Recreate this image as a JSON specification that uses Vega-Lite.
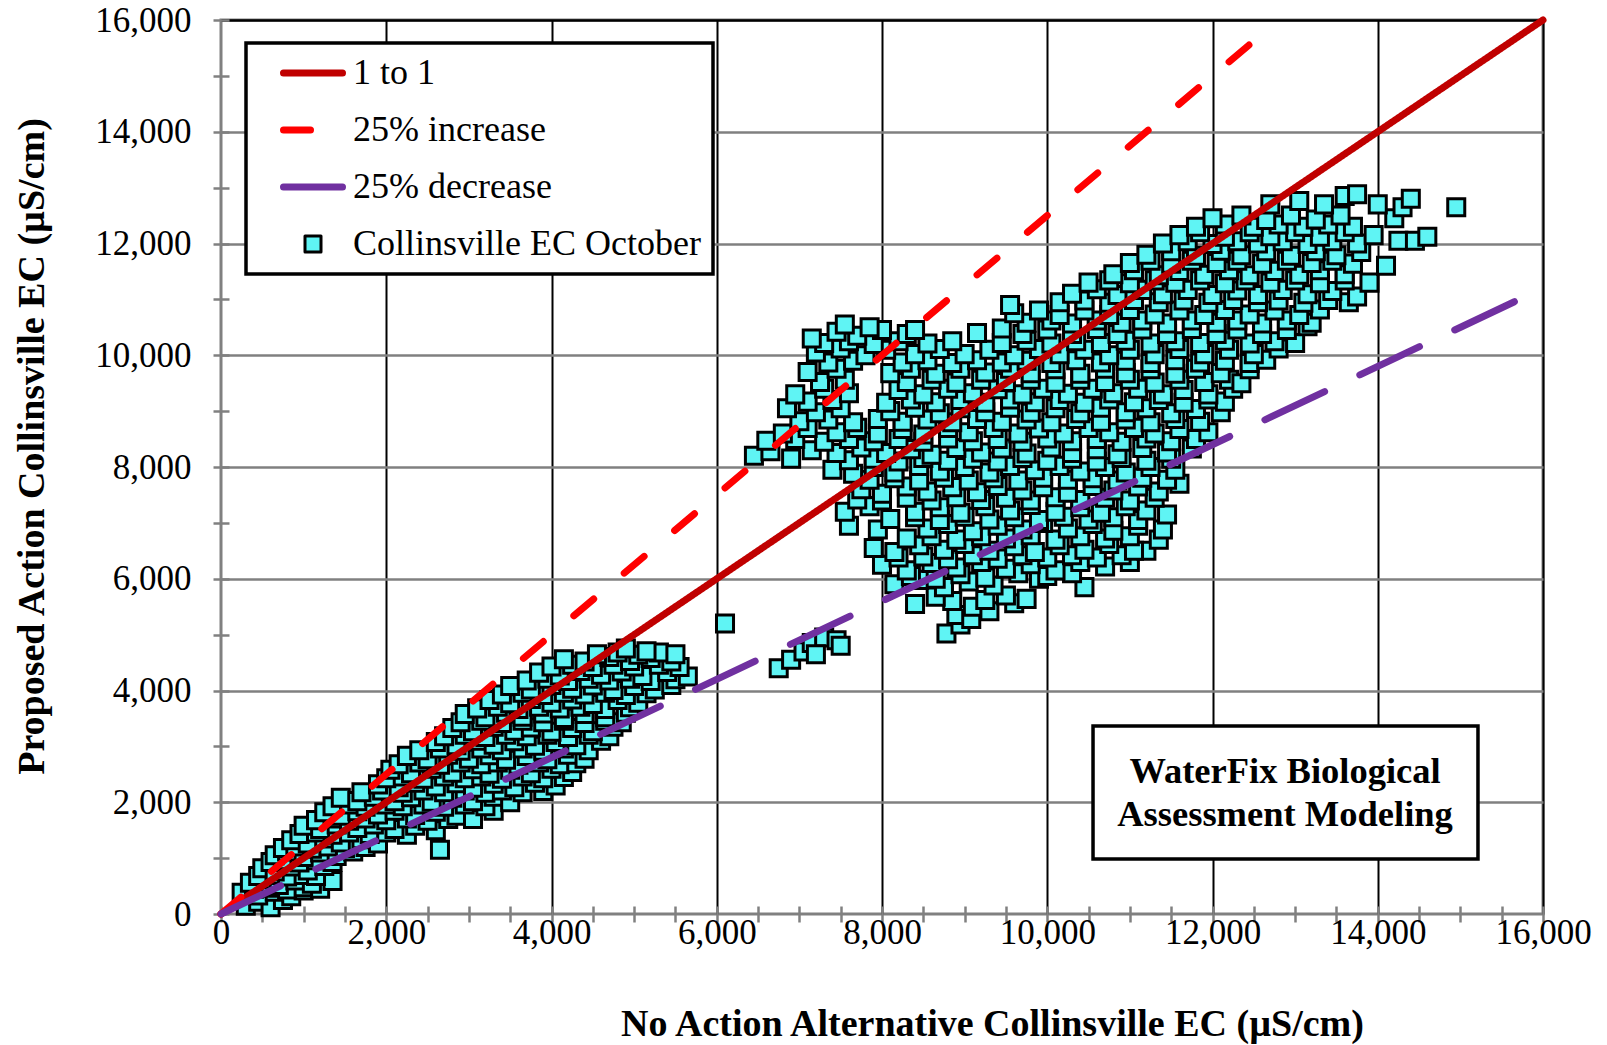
{
"$schema": "https://vega.github.io/schema/vega-lite/v6.json",
"width": 1322, "height": 894,
"autosize": {"type": "none"},
"padding": {"left": 221, "top": 20, "right": 64, "bottom": 131},
"background": "white",
"config": {
  "view": {"stroke": "#808080", "strokeWidth": 3},
  "font": "Liberation Serif",
  "legend": {"strokeColor": "black", "strokeWidth": 3.5, "fillColor": "white", "padding": 12}
},
"datasets": {
"pts": [
{"x":8780,"y":5020},{"x":8950,"y":5180},
{"x":8900,"y":5350},{"x":9080,"y":5280},{"x":9600,"y":5560},{"x":9100,"y":5500},{"x":9300,"y":5420},{"x":8850,"y":5600},
{"x":8400,"y":5550},{"x":8650,"y":5680},{"x":9250,"y":5620},{"x":9500,"y":5700},{"x":9750,"y":5640},
{"x":8150,"y":5900},{"x":8450,"y":5980},{"x":8750,"y":5850},{"x":9050,"y":5950},{"x":9350,"y":5880},{"x":9900,"y":6000},{"x":10450,"y":5850},
{"x":8350,"y":6050},{"x":8650,"y":6000},{"x":8950,"y":6080},{"x":9250,"y":6020},{"x":9650,"y":6100},{"x":10000,"y":6050},{"x":10300,"y":6100},
{"x":8000,"y":6250},{"x":8300,"y":6150},{"x":8600,"y":6280},{"x":8900,"y":6200},{"x":9200,"y":6300},{"x":9500,"y":6180},{"x":9800,"y":6260},{"x":10100,"y":6150},{"x":10400,"y":6300},{"x":10700,"y":6220},{"x":11000,"y":6300},
{"x":8200,"y":6380},{"x":8500,"y":6400},{"x":8800,"y":6350},{"x":9100,"y":6420},{"x":9400,"y":6360},{"x":9700,"y":6420},{"x":10000,"y":6380},{"x":10300,"y":6420},{"x":10600,"y":6380},{"x":10900,"y":6420},{"x":11200,"y":6500},
{"x":7900,"y":6550},{"x":8150,"y":6480},{"x":8450,"y":6600},{"x":8750,"y":6520},{"x":9000,"y":6620},{"x":9300,"y":6500},{"x":9600,"y":6580},{"x":9850,"y":6480},{"x":10150,"y":6600},{"x":10450,"y":6520},{"x":10750,"y":6620},{"x":11050,"y":6500},{"x":11350,"y":6700},
{"x":8300,"y":6720},{"x":8600,"y":6760},{"x":8900,"y":6700},{"x":9200,"y":6760},{"x":9500,"y":6720},{"x":9800,"y":6780},{"x":10100,"y":6700},{"x":10400,"y":6760},{"x":10700,"y":6720},{"x":11000,"y":6760},
{"x":7600,"y":6950},{"x":7950,"y":6880},{"x":8550,"y":6900},{"x":8800,"y":6980},{"x":9100,"y":6850},{"x":9400,"y":6950},{"x":9700,"y":6880},{"x":9950,"y":7000},{"x":10250,"y":6900},{"x":10550,"y":6980},{"x":10800,"y":6860},{"x":11100,"y":6950},{"x":11400,"y":6880},
{"x":8100,"y":7070},{"x":8400,"y":7100},{"x":8700,"y":7050},{"x":9000,"y":7110},{"x":9300,"y":7060},{"x":9600,"y":7100},{"x":9900,"y":7050},{"x":10200,"y":7110},{"x":10500,"y":7060},{"x":10800,"y":7100},{"x":11100,"y":7050},
{"x":7550,"y":7200},{"x":7850,"y":7300},{"x":8400,"y":7200},{"x":8700,"y":7280},{"x":8950,"y":7180},{"x":9250,"y":7300},{"x":9550,"y":7220},{"x":9800,"y":7320},{"x":10100,"y":7200},{"x":10400,"y":7280},{"x":10650,"y":7180},{"x":10950,"y":7300},{"x":11200,"y":7220},{"x":11450,"y":7150},
{"x":7700,"y":7420},{"x":8000,"y":7400},{"x":8300,"y":7450},{"x":8600,"y":7400},{"x":8900,"y":7460},{"x":9200,"y":7410},{"x":9500,"y":7450},{"x":9800,"y":7400},{"x":10100,"y":7460},{"x":10400,"y":7410},{"x":10700,"y":7450},{"x":11000,"y":7400},{"x":11300,"y":7450},
{"x":7750,"y":7600},{"x":8000,"y":7520},{"x":8300,"y":7650},{"x":8550,"y":7560},{"x":8850,"y":7640},{"x":9150,"y":7550},{"x":9400,"y":7660},{"x":9700,"y":7580},{"x":9950,"y":7640},{"x":10250,"y":7540},{"x":10550,"y":7660},{"x":10800,"y":7580},{"x":11100,"y":7650},{"x":11350,"y":7560},{"x":11600,"y":7700},
{"x":7850,"y":7770},{"x":8150,"y":7800},{"x":8450,"y":7760},{"x":8750,"y":7810},{"x":9050,"y":7760},{"x":9350,"y":7800},{"x":9650,"y":7760},{"x":9950,"y":7810},{"x":10250,"y":7770},{"x":10550,"y":7800},{"x":10850,"y":7760},{"x":11150,"y":7810},{"x":11450,"y":7770},
{"x":7400,"y":7950},{"x":7650,"y":7880},{"x":7900,"y":8000},{"x":8150,"y":7900},{"x":8450,"y":8020},{"x":8700,"y":7920},{"x":9000,"y":8000},{"x":9300,"y":7900},{"x":9550,"y":8020},{"x":9850,"y":7940},{"x":10150,"y":8020},{"x":10400,"y":7920},{"x":10700,"y":8000},{"x":10950,"y":7900},{"x":11250,"y":8000},{"x":11550,"y":7950},
{"x":7600,"y":8120},{"x":7900,"y":8150},{"x":8200,"y":8100},{"x":8500,"y":8160},{"x":8800,"y":8110},{"x":9100,"y":8150},{"x":9400,"y":8100},{"x":9700,"y":8160},{"x":10000,"y":8110},{"x":10300,"y":8150},{"x":10600,"y":8100},{"x":10900,"y":8160},{"x":11200,"y":8110},{"x":11500,"y":8150},
{"x":6450,"y":8200},{"x":6650,"y":8280},{"x":6900,"y":8150},{"x":7150,"y":8300},{"x":7450,"y":8250},{"x":7750,"y":8350},{"x":8050,"y":8250},{"x":8350,"y":8320},{"x":8600,"y":8220},{"x":8900,"y":8340},{"x":9200,"y":8260},{"x":9450,"y":8330},{"x":9750,"y":8240},{"x":10050,"y":8350},{"x":10300,"y":8250},{"x":10600,"y":8320},{"x":10850,"y":8230},{"x":11150,"y":8340},{"x":11450,"y":8260},{"x":11750,"y":8330},
{"x":6600,"y":8470},{"x":6950,"y":8500},{"x":7300,"y":8450},{"x":7600,"y":8500},{"x":7900,"y":8460},{"x":8200,"y":8500},{"x":8500,"y":8450},{"x":8800,"y":8510},{"x":9100,"y":8460},{"x":9400,"y":8500},{"x":9700,"y":8450},{"x":10000,"y":8510},{"x":10300,"y":8460},{"x":10600,"y":8500},{"x":10900,"y":8450},{"x":11200,"y":8510},{"x":11500,"y":8460},{"x":11800,"y":8500},
{"x":6800,"y":8600},{"x":7100,"y":8700},{"x":7450,"y":8620},{"x":7700,"y":8700},{"x":7950,"y":8600},{"x":8250,"y":8680},{"x":8500,"y":8580},{"x":8800,"y":8700},{"x":9050,"y":8620},{"x":9350,"y":8700},{"x":9650,"y":8600},{"x":9900,"y":8690},{"x":10200,"y":8600},{"x":10500,"y":8700},{"x":10750,"y":8620},{"x":11050,"y":8700},{"x":11300,"y":8600},{"x":11600,"y":8680},{"x":11950,"y":8620},
{"x":7000,"y":8820},{"x":7350,"y":8850},{"x":7650,"y":8800},{"x":7950,"y":8860},{"x":8250,"y":8810},{"x":8550,"y":8850},{"x":8850,"y":8800},{"x":9150,"y":8860},{"x":9450,"y":8810},{"x":9750,"y":8850},{"x":10050,"y":8800},{"x":10350,"y":8860},{"x":10650,"y":8810},{"x":10950,"y":8850},{"x":11250,"y":8800},{"x":11550,"y":8860},{"x":11850,"y":8810},
{"x":6850,"y":9050},{"x":7200,"y":8980},{"x":7500,"y":9050},{"x":8100,"y":9000},{"x":8400,"y":9060},{"x":8700,"y":8960},{"x":8950,"y":9050},{"x":9250,"y":8980},{"x":9550,"y":9060},{"x":9800,"y":8970},{"x":10100,"y":9050},{"x":10400,"y":8960},{"x":10650,"y":9060},{"x":10950,"y":8980},{"x":11200,"y":9050},{"x":11500,"y":8960},{"x":11800,"y":9040},{"x":12100,"y":8980},
{"x":7100,"y":9170},{"x":7400,"y":9200},{"x":8050,"y":9150},{"x":8350,"y":9210},{"x":8650,"y":9160},{"x":8950,"y":9200},{"x":9250,"y":9150},{"x":9550,"y":9210},{"x":9850,"y":9160},{"x":10150,"y":9200},{"x":10450,"y":9150},{"x":10750,"y":9210},{"x":11050,"y":9160},{"x":11350,"y":9200},{"x":11650,"y":9150},{"x":11950,"y":9210},{"x":12150,"y":9170},
{"x":6950,"y":9300},{"x":7300,"y":9400},{"x":7600,"y":9320},{"x":8200,"y":9380},{"x":8500,"y":9300},{"x":8800,"y":9400},{"x":9100,"y":9320},{"x":9400,"y":9390},{"x":9700,"y":9300},{"x":9950,"y":9400},{"x":10250,"y":9310},{"x":10550,"y":9400},{"x":10800,"y":9320},{"x":11100,"y":9400},{"x":11400,"y":9300},{"x":11650,"y":9380},{"x":11950,"y":9300},{"x":12250,"y":9400},
{"x":7250,"y":9520},{"x":7550,"y":9560},{"x":8300,"y":9520},{"x":8600,"y":9560},{"x":8900,"y":9510},{"x":9200,"y":9560},{"x":9500,"y":9520},{"x":9800,"y":9560},{"x":10100,"y":9510},{"x":10400,"y":9560},{"x":10700,"y":9520},{"x":11000,"y":9560},{"x":11300,"y":9510},{"x":11600,"y":9560},{"x":11900,"y":9520},{"x":12200,"y":9560},{"x":12350,"y":9500},
{"x":7100,"y":9700},{"x":7450,"y":9760},{"x":8100,"y":9680},{"x":8350,"y":9760},{"x":8650,"y":9670},{"x":8950,"y":9760},{"x":9250,"y":9690},{"x":9550,"y":9760},{"x":9800,"y":9680},{"x":10100,"y":9750},{"x":10400,"y":9670},{"x":10700,"y":9760},{"x":10950,"y":9680},{"x":11250,"y":9750},{"x":11550,"y":9670},{"x":11800,"y":9760},{"x":12100,"y":9680},{"x":12450,"y":9750},
{"x":7350,"y":9870},{"x":7650,"y":9900},{"x":8250,"y":9870},{"x":8550,"y":9910},{"x":8850,"y":9860},{"x":9150,"y":9910},{"x":9450,"y":9870},{"x":9750,"y":9900},{"x":10050,"y":9860},{"x":10350,"y":9910},{"x":10650,"y":9870},{"x":10950,"y":9900},{"x":11250,"y":9860},{"x":11550,"y":9910},{"x":11850,"y":9870},{"x":12150,"y":9900},{"x":12450,"y":9860},{"x":12650,"y":9920},
{"x":7200,"y":10050},{"x":7500,"y":10120},{"x":7800,"y":10000},{"x":8050,"y":10100},{"x":8400,"y":10020},{"x":8700,"y":10110},{"x":9000,"y":10020},{"x":9300,"y":10100},{"x":9600,"y":10000},{"x":9900,"y":10110},{"x":10150,"y":10020},{"x":10450,"y":10100},{"x":10750,"y":10000},{"x":11000,"y":10100},{"x":11300,"y":10020},{"x":11600,"y":10110},{"x":11900,"y":10020},{"x":12200,"y":10100},{"x":12500,"y":10020},{"x":12800,"y":10120},
{"x":7300,"y":10220},{"x":7600,"y":10250},{"x":7900,"y":10200},{"x":8200,"y":10250},{"x":8550,"y":10210},{"x":8850,"y":10250},{"x":9450,"y":10220},{"x":9750,"y":10260},{"x":10050,"y":10210},{"x":10350,"y":10250},{"x":10650,"y":10220},{"x":10950,"y":10260},{"x":11250,"y":10210},{"x":11550,"y":10250},{"x":11850,"y":10220},{"x":12150,"y":10260},{"x":12450,"y":10210},{"x":12750,"y":10250},{"x":13000,"y":10220},
{"x":7150,"y":10300},{"x":7450,"y":10420},{"x":7700,"y":10350},{"x":8000,"y":10450},{"x":8300,"y":10380},{"x":9150,"y":10400},{"x":9450,"y":10480},{"x":9700,"y":10380},{"x":10000,"y":10460},{"x":10300,"y":10380},{"x":10600,"y":10470},{"x":10850,"y":10380},{"x":11150,"y":10460},{"x":11450,"y":10380},{"x":11750,"y":10470},{"x":12050,"y":10380},{"x":12300,"y":10460},{"x":12600,"y":10380},{"x":12900,"y":10450},{"x":13150,"y":10520},
{"x":9750,"y":10580},{"x":10050,"y":10620},{"x":10300,"y":10570},{"x":10600,"y":10620},{"x":10900,"y":10580},{"x":11150,"y":10620},{"x":11450,"y":10570},{"x":11750,"y":10620},{"x":12050,"y":10580},{"x":12300,"y":10620},{"x":12600,"y":10570},{"x":12900,"y":10620},{"x":13200,"y":10580},
{"x":7550,"y":10550},{"x":7850,"y":10500},{"x":8400,"y":10450},{"x":9600,"y":10750},{"x":9900,"y":10800},{"x":10150,"y":10720},{"x":10450,"y":10800},{"x":10750,"y":10720},{"x":11000,"y":10810},{"x":11300,"y":10730},{"x":11600,"y":10800},{"x":11900,"y":10720},{"x":12150,"y":10810},{"x":12450,"y":10730},{"x":12750,"y":10800},{"x":13050,"y":10720},{"x":13300,"y":10820},
{"x":10150,"y":10950},{"x":10450,"y":10980},{"x":10750,"y":10940},{"x":11050,"y":10990},{"x":11350,"y":10950},{"x":11650,"y":10980},{"x":11950,"y":10940},{"x":12250,"y":10990},{"x":12550,"y":10950},{"x":12800,"y":10980},{"x":13100,"y":10940},{"x":13400,"y":10990},{"x":13650,"y":10950},
{"x":9550,"y":10900},{"x":10300,"y":11100},{"x":10600,"y":11180},{"x":10850,"y":11080},{"x":11150,"y":11170},{"x":11400,"y":11090},{"x":11700,"y":11170},{"x":12000,"y":11080},{"x":12300,"y":11160},{"x":12550,"y":11080},{"x":12850,"y":11170},{"x":13150,"y":11090},{"x":13450,"y":11150},{"x":13750,"y":11050},
{"x":10500,"y":11300},{"x":10750,"y":11340},{"x":11000,"y":11290},{"x":11300,"y":11340},{"x":11550,"y":11300},{"x":11850,"y":11340},{"x":12150,"y":11290},{"x":12400,"y":11340},{"x":12700,"y":11300},{"x":13000,"y":11340},{"x":13300,"y":11290},{"x":13600,"y":11340},{"x":13900,"y":11300},
{"x":10800,"y":11450},{"x":11050,"y":11520},{"x":11350,"y":11430},{"x":11600,"y":11510},{"x":11900,"y":11440},{"x":12200,"y":11520},{"x":12450,"y":11430},{"x":12750,"y":11510},{"x":13050,"y":11440},{"x":13300,"y":11520},{"x":13600,"y":11450},{"x":14100,"y":11600},
{"x":11000,"y":11650},{"x":11250,"y":11690},{"x":11500,"y":11640},{"x":11750,"y":11690},{"x":12050,"y":11650},{"x":12300,"y":11690},{"x":12600,"y":11640},{"x":12900,"y":11690},{"x":13200,"y":11650},{"x":13450,"y":11690},{"x":13700,"y":11640},
{"x":11200,"y":11800},{"x":11500,"y":11860},{"x":11800,"y":11780},{"x":12100,"y":11870},{"x":12350,"y":11790},{"x":12650,"y":11860},{"x":12950,"y":11780},{"x":13250,"y":11860},{"x":13500,"y":11790},{"x":13800,"y":11850},
{"x":11400,"y":12000},{"x":11700,"y":12040},{"x":12000,"y":11990},{"x":12300,"y":12040},{"x":12550,"y":12000},{"x":12850,"y":12040},{"x":13150,"y":11990},{"x":13450,"y":12040},{"x":13750,"y":12000},
{"x":11600,"y":12150},{"x":11850,"y":12200},{"x":12150,"y":12120},{"x":12450,"y":12200},{"x":12700,"y":12130},{"x":13000,"y":12200},{"x":13300,"y":12120},{"x":13600,"y":12200},{"x":13950,"y":12150},{"x":14250,"y":12050},{"x":14450,"y":12050},{"x":14600,"y":12120},
{"x":11800,"y":12300},{"x":12150,"y":12340},{"x":12500,"y":12300},{"x":12800,"y":12340},{"x":13100,"y":12300},{"x":13400,"y":12340},{"x":13700,"y":12300},
{"x":12000,"y":12450},{"x":12350,"y":12500},{"x":12650,"y":12420},{"x":12950,"y":12500},{"x":13250,"y":12430},{"x":13550,"y":12500},{"x":14200,"y":12450},
{"x":12700,"y":12700},{"x":13050,"y":12760},{"x":13350,"y":12700},{"x":13600,"y":12850},{"x":13750,"y":12880},{"x":14000,"y":12700},{"x":14300,"y":12650},{"x":14400,"y":12800},{"x":14950,"y":12650},
{"x":300,"y":150},{"x":450,"y":220},{"x":600,"y":120},{"x":750,"y":250},
{"x":250,"y":380},{"x":450,"y":330},{"x":650,"y":400},{"x":850,"y":320},{"x":1000,"y":420},
{"x":400,"y":450},{"x":600,"y":470},{"x":800,"y":440},{"x":1000,"y":480},{"x":1200,"y":450},
{"x":350,"y":560},{"x":550,"y":620},{"x":700,"y":520},{"x":900,"y":600},{"x":1100,"y":540},{"x":1350,"y":590},
{"x":450,"y":680},{"x":650,"y":700},{"x":800,"y":670},{"x":1000,"y":700},{"x":1150,"y":680},
{"x":500,"y":820},{"x":650,"y":760},{"x":850,"y":850},{"x":1050,"y":780},{"x":1250,"y":860},
{"x":600,"y":930},{"x":750,"y":960},{"x":950,"y":920},{"x":1150,"y":960},{"x":1350,"y":930},
{"x":650,"y":1050},{"x":800,"y":1120},{"x":1000,"y":1020},{"x":1200,"y":1100},{"x":1400,"y":1040},{"x":1600,"y":1120},
{"x":750,"y":1180},{"x":900,"y":1210},{"x":1100,"y":1170},{"x":1300,"y":1210},{"x":1500,"y":1180},{"x":1750,"y":1200},
{"x":850,"y":1320},{"x":1050,"y":1260},{"x":1250,"y":1350},{"x":1450,"y":1280},{"x":1700,"y":1340},{"x":1900,"y":1260},
{"x":950,"y":1430},{"x":1150,"y":1460},{"x":1350,"y":1420},{"x":1550,"y":1460},{"x":1800,"y":1430},{"x":2000,"y":1460},{"x":2250,"y":1420},
{"x":1000,"y":1580},{"x":1200,"y":1520},{"x":1400,"y":1600},{"x":1650,"y":1540},{"x":1850,"y":1600},{"x":2100,"y":1520},{"x":2350,"y":1580},{"x":2600,"y":1500},
{"x":1150,"y":1680},{"x":1350,"y":1710},{"x":1550,"y":1670},{"x":1750,"y":1710},{"x":2000,"y":1680},{"x":2250,"y":1710},{"x":2500,"y":1670},{"x":2750,"y":1700},
{"x":1250,"y":1820},{"x":1450,"y":1760},{"x":1650,"y":1840},{"x":1900,"y":1780},{"x":2100,"y":1850},{"x":2350,"y":1770},{"x":2600,"y":1830},{"x":2850,"y":1760},{"x":3050,"y":1700},{"x":3300,"y":1850},
{"x":1350,"y":1930},{"x":1550,"y":1960},{"x":1750,"y":1920},{"x":2000,"y":1960},{"x":2200,"y":1930},{"x":2450,"y":1960},{"x":2700,"y":1920},{"x":2950,"y":1960},{"x":3200,"y":1930},
{"x":1450,"y":2080},{"x":1650,"y":2020},{"x":1850,"y":2100},{"x":2100,"y":2020},{"x":2300,"y":2090},{"x":2550,"y":2010},{"x":2800,"y":2080},{"x":3050,"y":2020},{"x":3300,"y":2100},{"x":3500,"y":2000},
{"x":1700,"y":2180},{"x":1950,"y":2210},{"x":2200,"y":2170},{"x":2450,"y":2210},{"x":2700,"y":2180},{"x":2950,"y":2210},{"x":3200,"y":2170},{"x":3400,"y":2210},{"x":3650,"y":2180},{"x":3900,"y":2200},
{"x":1900,"y":2320},{"x":2150,"y":2270},{"x":2350,"y":2350},{"x":2600,"y":2280},{"x":2850,"y":2340},{"x":3050,"y":2260},{"x":3300,"y":2330},{"x":3550,"y":2270},{"x":3800,"y":2350},{"x":4050,"y":2300},
{"x":2000,"y":2430},{"x":2200,"y":2460},{"x":2450,"y":2420},{"x":2700,"y":2460},{"x":2950,"y":2430},{"x":3150,"y":2460},{"x":3400,"y":2420},{"x":3650,"y":2460},{"x":3900,"y":2430},{"x":4150,"y":2450},
{"x":2050,"y":2580},{"x":2300,"y":2520},{"x":2550,"y":2600},{"x":2800,"y":2530},{"x":3050,"y":2590},{"x":3250,"y":2510},{"x":3500,"y":2580},{"x":3750,"y":2520},{"x":4000,"y":2600},{"x":4250,"y":2540},
{"x":2150,"y":2680},{"x":2400,"y":2710},{"x":2650,"y":2670},{"x":2900,"y":2710},{"x":3150,"y":2680},{"x":3350,"y":2710},{"x":3600,"y":2670},{"x":3850,"y":2710},{"x":4100,"y":2680},{"x":4300,"y":2700},
{"x":2250,"y":2830},{"x":2500,"y":2770},{"x":2750,"y":2850},{"x":3000,"y":2780},{"x":3250,"y":2840},{"x":3450,"y":2760},{"x":3700,"y":2830},{"x":3950,"y":2770},{"x":4200,"y":2850},{"x":4400,"y":2780},
{"x":2400,"y":2930},{"x":2650,"y":2960},{"x":2900,"y":2920},{"x":3150,"y":2960},{"x":3400,"y":2930},{"x":3650,"y":2960},{"x":3900,"y":2920},{"x":4150,"y":2960},{"x":4450,"y":2930},
{"x":2600,"y":3080},{"x":2850,"y":3020},{"x":3100,"y":3100},{"x":3300,"y":3030},{"x":3550,"y":3090},{"x":3800,"y":3010},{"x":4050,"y":3080},{"x":4300,"y":3020},{"x":4600,"y":3100},
{"x":2700,"y":3180},{"x":2950,"y":3210},{"x":3200,"y":3170},{"x":3450,"y":3210},{"x":3700,"y":3180},{"x":3950,"y":3210},{"x":4200,"y":3170},{"x":4450,"y":3210},{"x":4700,"y":3180},
{"x":2800,"y":3330},{"x":3050,"y":3270},{"x":3300,"y":3350},{"x":3550,"y":3280},{"x":3750,"y":3340},{"x":4000,"y":3260},{"x":4250,"y":3330},{"x":4500,"y":3270},{"x":4750,"y":3350},
{"x":2900,"y":3430},{"x":3150,"y":3460},{"x":3400,"y":3420},{"x":3650,"y":3460},{"x":3900,"y":3430},{"x":4150,"y":3460},{"x":4400,"y":3420},{"x":4650,"y":3460},{"x":4850,"y":3430},
{"x":2950,"y":3580},{"x":3200,"y":3520},{"x":3450,"y":3600},{"x":3650,"y":3530},{"x":3900,"y":3590},{"x":4150,"y":3510},{"x":4400,"y":3580},{"x":4650,"y":3520},{"x":4900,"y":3600},
{"x":3100,"y":3680},{"x":3350,"y":3710},{"x":3600,"y":3670},{"x":3850,"y":3710},{"x":4100,"y":3680},{"x":4350,"y":3710},{"x":4650,"y":3670},{"x":4950,"y":3700},
{"x":3250,"y":3830},{"x":3500,"y":3770},{"x":3750,"y":3850},{"x":4000,"y":3780},{"x":4250,"y":3840},{"x":4500,"y":3760},{"x":4800,"y":3830},{"x":5050,"y":3780},
{"x":3400,"y":3930},{"x":3650,"y":3960},{"x":3900,"y":3920},{"x":4150,"y":3960},{"x":4400,"y":3930},{"x":4650,"y":3960},{"x":4900,"y":3920},{"x":5150,"y":3950},
{"x":3500,"y":4080},{"x":3750,"y":4020},{"x":4000,"y":4100},{"x":4250,"y":4030},{"x":4500,"y":4090},{"x":4750,"y":4010},{"x":5000,"y":4080},{"x":5250,"y":4020},{"x":5450,"y":4100},
{"x":3700,"y":4180},{"x":3950,"y":4210},{"x":4200,"y":4170},{"x":4450,"y":4210},{"x":4700,"y":4180},{"x":4950,"y":4210},{"x":5200,"y":4170},{"x":5500,"y":4200},
{"x":3850,"y":4320},{"x":4100,"y":4270},{"x":4350,"y":4350},{"x":4600,"y":4280},{"x":4850,"y":4340},{"x":5100,"y":4260},{"x":5400,"y":4330},{"x":5650,"y":4250},
{"x":4000,"y":4430},{"x":4250,"y":4460},{"x":4500,"y":4420},{"x":4750,"y":4460},{"x":5000,"y":4430},{"x":5300,"y":4460},{"x":5550,"y":4420},
{"x":4150,"y":4560},{"x":4400,"y":4520},{"x":4700,"y":4600},{"x":4950,"y":4530},{"x":5200,"y":4580},{"x":5450,"y":4520},
{"x":4550,"y":4650},{"x":4800,"y":4680},{"x":5050,"y":4640},{"x":5300,"y":4680},
{"x":4900,"y":4750},{"x":5150,"y":4700},{"x":5500,"y":4650},
{"x":2650,"y":1150},{"x":6100,"y":5200},
{"x":6750,"y":4400},{"x":6900,"y":4550},{"x":7050,"y":4700},{"x":7150,"y":4850},{"x":7300,"y":4950},{"x":7450,"y":4900},{"x":7500,"y":4800},{"x":7200,"y":4650}
],
"lines": [
{"s":"1 to 1","x":0,"y":0},{"s":"1 to 1","x":16000,"y":16000},
{"s":"25% increase","x":0,"y":0},{"s":"25% increase","x":12800,"y":16000},
{"s":"25% decrease","x":0,"y":0},{"s":"25% decrease","x":16000,"y":11200}
],
"box": [{"x":10554,"x2":15213,"y":984,"y2":3365}],
"note": [{"t":"WaterFix Biological","x":12878,"y":2541},{"t":"Assessment Modeling","x":12878,"y":1772}]
},
"layer": [
{
 "data": {"name": "pts"},
 "mark": {"type": "point", "shape": "square", "filled": true, "size": 290, "strokeWidth": 3, "opacity": 1},
 "encoding": {
  "x": {"field": "x", "type": "quantitative",
   "scale": {"domain": [0, 16000], "nice": false, "zero": true},
   "axis": {
    "title": "No Action Alternative Collinsville EC  (µS/cm)",
    "values": [0,500,1000,1500,2000,2500,3000,3500,4000,4500,5000,5500,6000,6500,7000,7500,8000,8500,9000,9500,10000,10500,11000,11500,12000,12500,13000,13500,14000,14500,15000,15500,16000],
    "format": ",d",
    "labelExpr": "datum.value % 2000 === 0 ? datum.label : ''",
    "offset": -8, "tickSize": 16, "domain": false,
    "tickColor": "#808080", "tickWidth": 2.5,
    "grid": true,
    "gridColor": {"condition": {"test": "datum.value > 0 && datum.value % 2000 === 0", "value": "black"}, "value": "transparent"},
    "gridWidth": 2,
    "labelFont": "Liberation Serif", "labelFontSize": 35, "labelColor": "black",
    "labelPadding": -7, "labelFlush": false, "labelOverlap": false,
    "titleFont": "Liberation Serif", "titleFontSize": 38, "titleFontWeight": "bold", "titleColor": "black",
    "titleX": 771, "titleY": 129, "titleAlign": "center", "titleBaseline": "alphabetic", "titleAnchor": "start"
   }},
  "y": {"field": "y", "type": "quantitative",
   "scale": {"domain": [0, 16000], "nice": false, "zero": true},
   "axis": {
    "title": "Proposed Action Collinsville EC  (µS/cm)",
    "values": [0,500,1000,1500,2000,2500,3000,3500,4000,4500,5000,5500,6000,6500,7000,7500,8000,8500,9000,9500,10000,10500,11000,11500,12000,12500,13000,13500,14000,14500,15000,15500,16000],
    "format": ",d",
    "labelExpr": "datum.value % 2000 === 0 ? datum.label : ''",
    "offset": -8, "tickSize": 16, "domain": false,
    "tickColor": "#808080", "tickWidth": 2.5,
    "grid": true,
    "gridColor": {"condition": [{"test": "datum.value === 16000", "value": "black"}, {"test": "datum.value > 0 && datum.value % 2000 === 0", "value": "#808080"}], "value": "transparent"},
    "gridWidth": 2.5,
    "labelFont": "Liberation Serif", "labelFontSize": 35, "labelColor": "black",
    "labelPadding": 22, "labelFlush": false, "labelOverlap": false,
    "titleFont": "Liberation Serif", "titleFontSize": 38, "titleFontWeight": "bold", "titleColor": "black",
    "titleAngle": -90, "titleX": -186, "titleY": 426, "titleAlign": "center", "titleBaseline": "alphabetic", "titleAnchor": "start"
   }},
  "fill": {"datum": "Collinsville EC October",
   "scale": {"domain": ["1 to 1", "25% increase", "25% decrease", "Collinsville EC October"], "range": ["#C00000", "#FF0000", "#7030A0", "#5FF4F4"]},
   "legend": {
    "title": "\u2003", "titleOrient": "right", "titleFontSize": 24, "titlePadding": 0,
    "orient": "none", "legendX": 25, "legendY": 23,
    "labelFont": "Liberation Serif", "labelFontSize": 36, "labelColor": "black", "labelLimit": 800,
    "symbolSize": 2500, "rowPadding": 21, "symbolOffset": 37, "labelOffset": 22,
    "encode": {"symbols": {"update": {
      "shape": {"signal": "datum.value === 'Collinsville EC October' ? 'square' : 'stroke'"},
      "size": {"signal": "datum.value === 'Collinsville EC October' ? 256 : 3481"},
      "strokeWidth": {"signal": "datum.value === 'Collinsville EC October' ? 3 : 7"},
      "strokeDash": {"signal": "datum.value === '25% increase' ? [27, 100] : [1, 0]"},
      "strokeCap": {"value": "round"},
      "opacity": {"value": 1}
    }}}
   }},
  "stroke": {"datum": "Collinsville EC October"}
 }
},
{
 "data": {"name": "lines"},
 "mark": {"type": "line", "strokeWidth": 7, "strokeCap": "round"},
 "encoding": {
  "x": {"field": "x", "type": "quantitative"},
  "y": {"field": "y", "type": "quantitative"},
  "stroke": {"field": "s", "type": "nominal",
   "scale": {"domain": ["1 to 1", "25% increase", "25% decrease", "Collinsville EC October"], "range": ["#C00000", "#FF0000", "#7030A0", "black"]},
   "legend": {
    "title": "\u2003", "titleOrient": "right", "titleFontSize": 24, "titlePadding": 0,
    "orient": "none", "legendX": 25, "legendY": 23,
    "labelFont": "Liberation Serif", "labelFontSize": 36, "labelColor": "black", "labelLimit": 800,
    "symbolSize": 2500, "rowPadding": 21, "symbolOffset": 37, "labelOffset": 22,
    "encode": {"symbols": {"update": {
      "shape": {"signal": "datum.value === 'Collinsville EC October' ? 'square' : 'stroke'"},
      "size": {"signal": "datum.value === 'Collinsville EC October' ? 256 : 3481"},
      "strokeWidth": {"signal": "datum.value === 'Collinsville EC October' ? 3 : 7"},
      "strokeDash": {"signal": "datum.value === '25% increase' ? [27, 100] : [1, 0]"},
      "strokeCap": {"value": "round"},
      "opacity": {"value": 1}
    }}}
   }},
  "strokeDash": {"field": "s", "type": "nominal",
   "scale": {"domain": ["1 to 1", "25% increase", "25% decrease"], "range": [[1, 0], [26, 40], [66, 39]]},
   "legend": null}
 }
},
{
 "data": {"name": "box"},
 "mark": {"type": "rect", "fill": "white", "stroke": "black", "strokeWidth": 3.5},
 "encoding": {
  "x": {"field": "x", "type": "quantitative"}, "x2": {"field": "x2"},
  "y": {"field": "y", "type": "quantitative"}, "y2": {"field": "y2"}
 }
},
{
 "data": {"name": "note"},
 "mark": {"type": "text", "font": "Liberation Serif", "fontSize": 36.5, "fontWeight": "bold", "align": "center", "baseline": "middle", "color": "black"},
 "encoding": {
  "x": {"field": "x", "type": "quantitative"},
  "y": {"field": "y", "type": "quantitative"},
  "text": {"field": "t"}
 }
}
]
}
